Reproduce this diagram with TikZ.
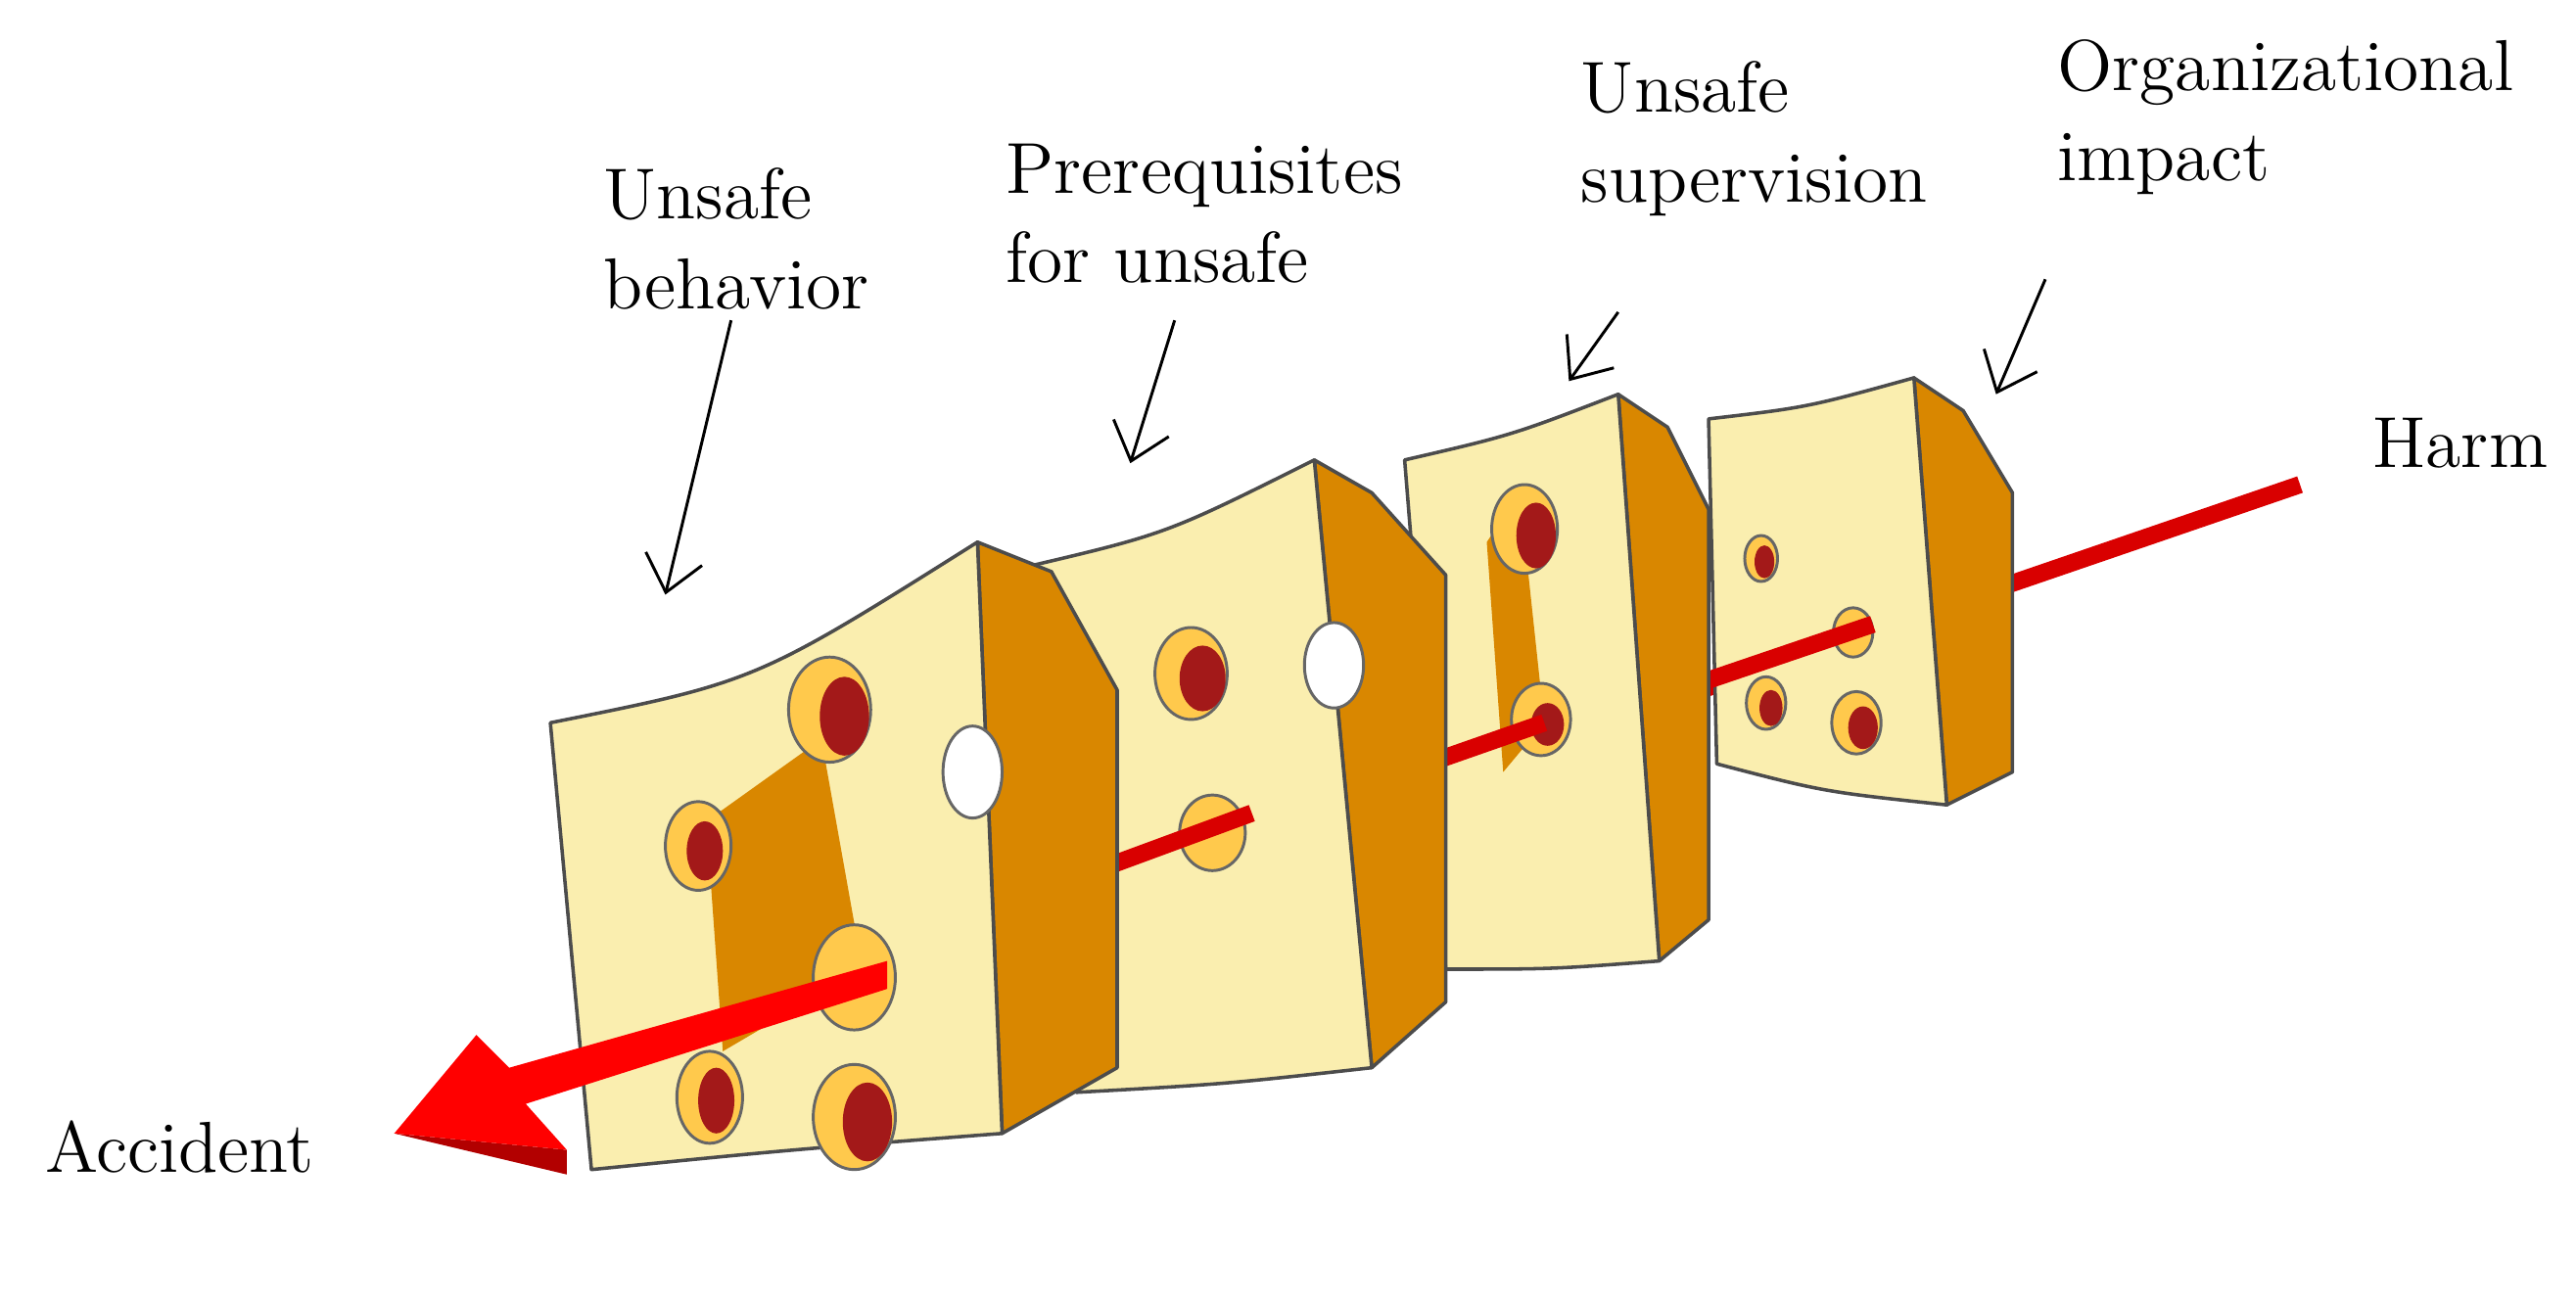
\documentclass[tikz,border=0pt]{standalone}
\usetikzlibrary{arrows.meta}
\begin{document}
\begin{tikzpicture}[x=0.01cm,y=-0.01cm,line join=round,
  face/.style={fill=yellow!25!orange!18,draw=black!70,line width=0.6pt},
  side/.style={fill=orange!75!yellow!85!black,draw=black!70,line width=0.6pt},
  rim/.style={fill=orange!60!yellow!70,draw=black!60,line width=0.5pt},
  core/.style={fill=red!60!black!90,draw=none},
  lbl/.style={font=\fontsize{12.5}{15.5}\selectfont,align=left,anchor=north west},
  ptr/.style={-{Straight Barb[length=6pt,width=10pt]},line width=0.5pt}]
\useasboundingbox (0,0) rectangle (1568,793);
\definecolor{cheese}{RGB}{250,238,175}
% red ray (thin)
\draw[red!85!black,line width=3pt] (1400,295) -- (540,590);
% slice 4
\draw[side] (1165,230) -- (1195,250) -- (1225,300) -- (1225,470) -- (1185,490) -- cycle;
\draw[face,fill=cheese] (1040,255) .. controls (1100,248) .. (1165,230) -- (1185,490) .. controls (1110,482) .. (1045,465) -- cycle;
\draw[rim] (1072,340) ellipse (10 and 14); \fill[core] (1074,342) ellipse (6 and 10);
\draw[rim] (1128,385) ellipse (12 and 15);
\draw[rim] (1075,428) ellipse (12 and 16); \fill[core] (1078,431) ellipse (7 and 11);
\draw[rim] (1130,440) ellipse (15 and 19); \fill[core] (1134,443) ellipse (9 and 13);
\draw[red!85!black,line width=3pt] (1140,380) -- (1040,414);
% slice 3
\draw[side] (985,240) -- (1015,260) -- (1040,310) -- (1040,560) -- (1010,585) -- cycle;
\draw[face,fill=cheese] (855,280) .. controls (920,265) .. (985,240) -- (1010,585) .. controls (945,590) .. (880,590) -- cycle;
\fill[orange!75!yellow!85!black] (905,330) -- (925,300) -- (940,440) -- (915,470) -- cycle;
\draw[rim] (928,322) ellipse (20 and 27); \fill[core] (935,326) ellipse (12 and 20);
\draw[rim] (938,438) ellipse (18 and 22); \fill[core] (942,441) ellipse (10 and 13);
\draw[red!85!black,line width=3pt] (940,440) -- (840,475);
% slice 2
\draw[side] (800,280) -- (835,300) -- (880,350) -- (880,610) -- (835,650) -- cycle;
\draw[face,fill=cheese] (625,345) .. controls (710,325) .. (800,280) -- (835,650) .. controls (745,660) .. (655,665) -- cycle;
\draw[rim] (725,410) ellipse (22 and 28); \fill[core] (732,413) ellipse (14 and 20);
\draw[rim] (738,507) ellipse (20 and 23);
\draw[rim,fill=white] (812,405) ellipse (18 and 26);
\draw[red!85!black,line width=3pt] (762,495) -- (640,540);
% slice 1
\draw[side] (595,330) -- (640,348) -- (680,420) -- (680,650) -- (610,690) -- cycle;
\draw[face,fill=cheese] (335,440) .. controls (460,415) .. (595,330) -- (610,690) .. controls (480,700) .. (360,712) -- cycle;
\fill[orange!75!yellow!85!black] (430,500) -- (500,450) -- (525,590) -- (440,640) -- cycle;
\draw[rim] (505,432) ellipse (25 and 32); \fill[core] (514,436) ellipse (15 and 24);
\draw[rim] (425,515) ellipse (20 and 27); \fill[core] (429,518) ellipse (11 and 18);
\draw[rim] (520,595) ellipse (25 and 32);
\draw[rim] (432,668) ellipse (20 and 28); \fill[core] (436,670) ellipse (11 and 20);
\draw[rim] (520,680) ellipse (25 and 32); \fill[core] (528,683) ellipse (15 and 24);
\draw[rim,fill=white] (592,470) ellipse (18 and 28);
% accident arrow
\fill[red!70!black] (240,690) -- (345,700) -- (345,715) -- cycle;
\fill[red] (540,585) -- (540,602) -- (320,672) -- (345,700) -- (240,690) -- (290,630) -- (310,650) -- cycle;
% labels
\node[lbl] (a) at (355,90) {Unsafe\\behavior};
\node[lbl] (b) at (600,75) {Prerequisites\\for unsafe};
\node[lbl] (c) at (950,25) {Unsafe\\supervision};
\node[lbl] (d) at (1240,12) {Organizational\\impact};
\node[lbl] (h) at (1432,242) {Harm};
\node[lbl] (acc) at (15,670) {Accident};
\coordinate (pa) at (405,362); \coordinate (pb) at (688,282);
\coordinate (pc) at (955,232); \coordinate (pd) at (1215,240);
\draw[ptr] (445,195) -- (pa);
\draw[ptr] (715,195) -- (pb);
\draw[ptr] (985,190) -- (pc);
\draw[ptr] (1245,170) -- (pd);
\end{tikzpicture}
\end{document}
